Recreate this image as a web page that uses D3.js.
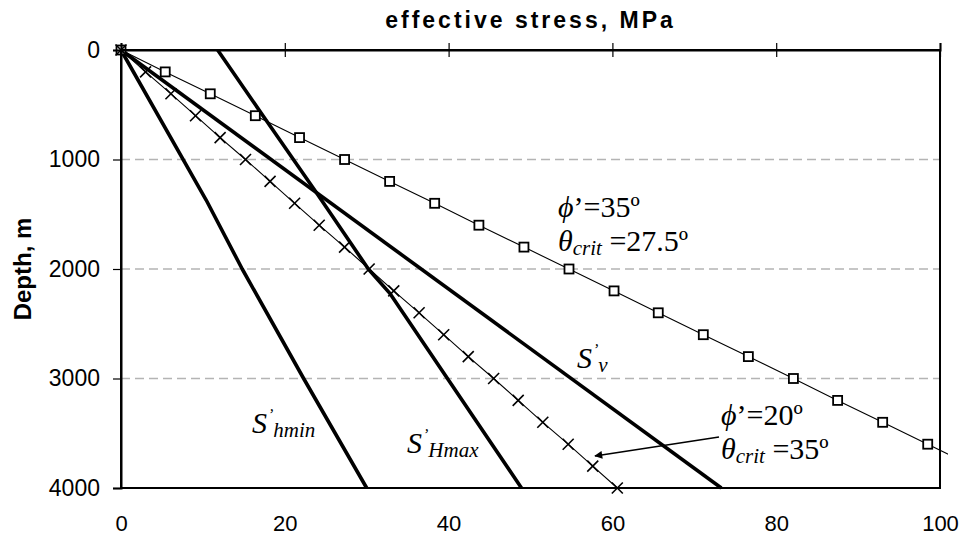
<!DOCTYPE html>
<html>
<head>
<meta charset="utf-8">
<script src="https://cdn.jsdelivr.net/npm/d3@7"></script>
<style>
  body { margin: 0; background: #fff; }
  svg { display: block; }
</style>
</head>
<body>
<svg id="chart" width="964" height="538"></svg>
<script>
// ---- data: effective stress (MPa) against depth (m) ----
// stations for the two Coulomb-limit series
const stationDepths = [0, 200, 400, 600, 800, 1000, 1200, 1400, 1600, 1800, 2000,
                       2200, 2400, 2600, 2800, 3000, 3200, 3400, 3600, 3800, 4000];
// phi' = 35 deg, theta_crit = 27.5 deg (square markers)
const stressPhi35 = [0, 5.4, 10.9, 16.4, 21.8, 27.3, 32.8, 38.3, 43.7, 49.2, 54.7,
                     60.2, 65.6, 71.1, 76.6, 82.1, 87.5, 93.0, 98.5, 104.0];
// phi' = 20 deg, theta_crit = 35 deg (cross markers)
const stressPhi20 = [0, 3.0, 6.1, 9.1, 12.1, 15.2, 18.2, 21.2, 24.2, 27.3, 30.3,
                     33.3, 36.4, 39.4, 42.4, 45.5, 48.5, 51.5, 54.6, 57.6, 60.6];
// principal effective stresses
const svDepths   = [0, 4000];
const svStress   = [0, 73.3];
const hminDepths = [0, 1370, 2000, 3000, 4000];
const hminStress = [0, 10.4, 14.8, 22.3, 30.0];
const hmaxDepths = [0, 640, 1285, 2000, 2220, 4000];
const hmaxStress = [11.8, 17.7, 23.7, 30.2, 32.8, 48.9];
// axis ticks
const xTicks = [0, 20, 40, 60, 80, 100];
const yTicks = [0, 1000, 2000, 3000, 4000];

// ---- layout ----
const svg = d3.select("#chart");
const plotL = 121, plotR = 940, plotT = 50, plotB = 488;
const x = d3.scaleLinear().domain([0, 100]).range([plotL, plotR]);
const y = d3.scaleLinear().domain([0, 4000]).range([plotT, plotB]);

const sans = "'Liberation Sans', Arial, sans-serif";
const serif = "'Liberation Serif', 'Times New Roman', serif";

// dashed horizontal gridlines
svg.append("g")
  .selectAll("line")
  .data(yTicks.filter(d => d > 0 && d < 4000))
  .join("line")
  .attr("x1", plotL).attr("x2", plotR)
  .attr("y1", d => y(d)).attr("y2", d => y(d))
  .attr("stroke", "#b4b4b4")
  .attr("stroke-width", 1.5)
  .attr("stroke-dasharray", "9,5");

const line = d3.line().x(d => x(d[0])).y(d => y(d[1]));

// clip for the thin phi'=35 line, which runs a little past the right frame
svg.append("clipPath").attr("id", "clipWide")
  .append("rect").attr("x", plotL - 10).attr("y", plotT - 10)
  .attr("width", 948 - plotL + 10).attr("height", plotB - plotT + 20);

// thick principal-stress lines
const thick = [
  d3.zip(hminStress, hminDepths),
  d3.zip(hmaxStress, hmaxDepths),
  d3.zip(svStress, svDepths)
];
svg.append("g")
  .selectAll("path")
  .data(thick)
  .join("path")
  .attr("d", line)
  .attr("fill", "none")
  .attr("stroke", "#000")
  .attr("stroke-width", 3.6)
  .attr("stroke-linejoin", "round");

// phi'=35 series: thin line with open squares
const phi35 = d3.zip(stressPhi35, stationDepths.slice(0, stressPhi35.length));
svg.append("path")
  .datum(phi35)
  .attr("d", line)
  .attr("clip-path", "url(#clipWide)")
  .attr("fill", "none")
  .attr("stroke", "#000")
  .attr("stroke-width", 1.1);
svg.append("g")
  .selectAll("rect")
  .data(phi35.filter(d => d[0] <= 100))
  .join("rect")
  .attr("x", d => x(d[0]) - 4.5)
  .attr("y", d => y(d[1]) - 4.5)
  .attr("width", 9).attr("height", 9)
  .attr("fill", "#fff")
  .attr("stroke", "#000")
  .attr("stroke-width", 1.8);

// phi'=20 series: thin line with x markers
const phi20 = d3.zip(stressPhi20, stationDepths);
svg.append("path")
  .datum(phi20)
  .attr("d", line)
  .attr("fill", "none")
  .attr("stroke", "#000")
  .attr("stroke-width", 1.1);
const crosses = svg.append("g")
  .selectAll("g")
  .data(phi20)
  .join("g")
  .attr("transform", d => `translate(${x(d[0])},${y(d[1])})`);
crosses.append("line").attr("x1", -5.5).attr("y1", -5.5).attr("x2", 5.5).attr("y2", 5.5);
crosses.append("line").attr("x1", -5.5).attr("y1", 5.5).attr("x2", 5.5).attr("y2", -5.5);
crosses.selectAll("line").attr("stroke", "#000").attr("stroke-width", 1.6);

// ---- frame and axes ----
svg.append("rect")
  .attr("x", plotL).attr("y", plotT)
  .attr("width", plotR - plotL).attr("height", plotB - plotT)
  .attr("fill", "none").attr("stroke", "#000").attr("stroke-width", 2);

// top axis: crossing tick marks, no labels
const topAxis = svg.append("g")
  .attr("transform", `translate(0,${plotT})`)
  .call(d3.axisTop(x).tickValues(xTicks).tickSize(7).tickFormat(""));
topAxis.select(".domain").attr("stroke-width", 2);
topAxis.selectAll(".tick line").attr("y1", 7).attr("y2", -7).attr("stroke-width", 1.2);

// value labels along the bottom
const bottomAxis = svg.append("g")
  .attr("transform", `translate(0,${plotB})`)
  .call(d3.axisBottom(x).tickValues(xTicks).tickSize(0).tickPadding(27)
    .tickFormat(d3.format("d")));
bottomAxis.select(".domain").remove();
bottomAxis.selectAll("text")
  .attr("font-family", sans).attr("font-size", 22).attr("fill", "#000");

// depth axis
const leftAxis = svg.append("g")
  .attr("transform", `translate(${plotL},0)`)
  .call(d3.axisLeft(y).tickValues(yTicks).tickSize(8).tickPadding(13)
    .tickFormat(d3.format("d")));
leftAxis.select(".domain").attr("stroke-width", 2);
leftAxis.selectAll(".tick line").attr("stroke-width", 1.2);
leftAxis.selectAll("text")
  .attr("font-family", sans).attr("font-size", 23).attr("fill", "#000");

// titles
svg.append("text")
  .attr("x", (plotL + plotR) / 2).attr("y", 28)
  .attr("text-anchor", "middle")
  .attr("font-family", sans).attr("font-weight", "bold").attr("font-size", 23)
  .attr("letter-spacing", 3)
  .text("effective stress, MPa");

svg.append("text")
  .attr("transform", `translate(31,${(plotT + plotB) / 2}) rotate(-90)`)
  .attr("text-anchor", "middle")
  .attr("font-family", sans).attr("font-weight", "bold").attr("font-size", 24)
  .text("Depth, m");

// ---- annotations ----
function stressLabel(px, py, sub) {
  const t = svg.append("text")
    .attr("x", px).attr("y", py)
    .attr("font-family", serif).attr("font-size", 30).attr("font-style", "italic");
  t.append("tspan").text("S");
  t.append("tspan").attr("font-size", 16).attr("dy", -13).attr("dx", 1).text("\u2019");
  t.append("tspan").attr("font-size", 21).attr("dy", 17).text(sub);
}
stressLabel(252, 433, "hmin");
stressLabel(407, 453, "Hmax");
stressLabel(577, 368, "v");

function coulombLabel(px, py, phi, theta) {
  const a = svg.append("text")
    .attr("x", px).attr("y", py)
    .attr("font-family", serif).attr("font-size", 30);
  a.append("tspan").attr("font-style", "italic").text("\u03d5");
  a.append("tspan").text("\u2019=" + phi + "\u00ba");
  const b = svg.append("text")
    .attr("x", px).attr("y", py + 34)
    .attr("font-family", serif).attr("font-size", 30);
  b.append("tspan").attr("font-style", "italic").text("\u03b8");
  b.append("tspan").attr("font-style", "italic").attr("font-size", 21).attr("dy", 4).text("crit");
  b.append("tspan").attr("dy", -4).text(" =" + theta + "\u00ba");
}
coulombLabel(558, 217, "35", "27.5");
coulombLabel(721, 425, "20", "35");

// arrow from the phi'=20 note to its curve
svg.append("defs").append("marker")
  .attr("id", "head").attr("viewBox", "0 0 10 10")
  .attr("refX", 9).attr("refY", 5)
  .attr("markerWidth", 12).attr("markerHeight", 8)
  .attr("markerUnits", "userSpaceOnUse")
  .attr("orient", "auto")
  .append("path").attr("d", "M0,0 L10,5 L0,10 z").attr("fill", "#000");
svg.append("line")
  .attr("x1", 719).attr("y1", 437)
  .attr("x2", 595).attr("y2", 456)
  .attr("stroke", "#000").attr("stroke-width", 1.6)
  .attr("marker-end", "url(#head)");
</script>
</body>
</html>
